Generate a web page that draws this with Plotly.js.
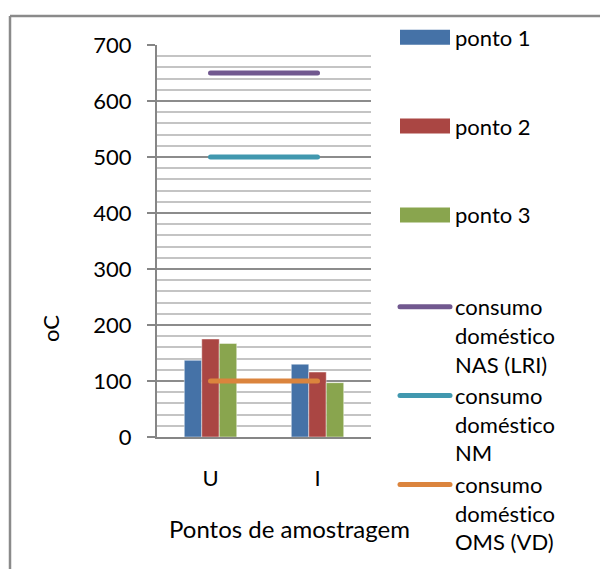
<!DOCTYPE html>
<html>
<head>
<meta charset="utf-8">
<script src="https://cdn.plot.ly/plotly-3.0.1.min.js"></script>
<style>
  html, body { margin: 0; padding: 0; background: #fff; }
  #chart { width: 600px; height: 569px; }
  #chart text { font-variant-ligatures: none; font-feature-settings: "liga" 0, "dlig" 0; }
</style>
</head>
<body>
<div id="chart"></div>
<script>
// Sampling points and measured values
const categories = ['U', 'I'];
const ponto1 = [137, 130];
const ponto2 = [175, 116];
const ponto3 = [167, 97];

// Reference limits for domestic consumption
const nasLRI = [650, 650];
const nmLimit = [500, 500];
const omsVD = [100, 100];

const yTickVals = [0, 100, 200, 300, 400, 500, 600, 700];
const yTickText = ['0', '100', '200', '300', '400', '500', '600', '700'];

const barNames = ['ponto 1', 'ponto 2', 'ponto 3'];
const lineNames = ['consumo<br>doméstico<br>NAS (LRI)', 'consumo<br>doméstico<br>NM', 'consumo<br>doméstico<br>OMS (VD)'];
const barColors = ['#4572A7', '#AA4643', '#89A54E'];
const lineColors = ['#71588F', '#4198AF', '#DB843D'];

// Plot-area geometry in pixels
const W = 600, H = 569;
const L = 157, R = 371, T = 45, B = 437;
const px = x => (x - L) / (R - L);
const py = y => (B - y) / (B - T);

const FONT = 'Lato, "Open Sans", sans-serif';
const FS = 22;
const BLANK = '<br>\u00a0<br>\u00a0';

const barSeries = [ponto1, ponto2, ponto3];
const lineSeries = [nasLRI, nmLimit, omsVD];

const traces = [];
barSeries.forEach((vals, i) => {
  traces.push({
    type: 'bar', x: categories, y: vals, name: barNames[i] + BLANK,
    marker: { color: barColors[i], line: { width: 1, color: 'rgba(255,255,255,0.45)' } },
    legend: 'legend'
  });
});
lineSeries.forEach((vals, i) => {
  traces.push({
    type: 'scatter', mode: 'lines', x: categories, y: vals, name: lineNames[i],
    line: { color: lineColors[i], width: 5 },
    legend: 'legend2'
  });
});

const legendBase = {
  x: px(395), xanchor: 'left', yanchor: 'top',
  valign: 'top', itemwidth: 50, bgcolor: 'rgba(0,0,0,0)',
  font: { family: FONT, size: FS, color: '#000' },
  tracegroupgap: 0
};

const layout = {
  width: W, height: H,
  margin: { l: L, r: W - R, t: T, b: H - B, pad: 0, autoexpand: false },
  paper_bgcolor: '#fff', plot_bgcolor: '#fff',
  font: { family: FONT, size: FS, color: '#000' },
  barmode: 'group', bargap: 0.51, bargroupgap: 0,
  showlegend: true,
  legend: Object.assign({}, legendBase, { y: py(16.5) }),
  legend2: Object.assign({}, legendBase, { y: py(286) }),
  xaxis: {
    type: 'category', showline: true, linecolor: '#868686', linewidth: 2,
    ticks: '', showgrid: false, zeroline: false, automargin: false,
    tickfont: { family: FONT, size: FS, color: '#000' },
    ticklabelstandoff: 21
  },
  yaxis: {
    range: [0, 700], tickvals: yTickVals, ticktext: yTickText,
    showline: true, linecolor: '#868686', linewidth: 2,
    ticks: 'outside', ticklen: 8, tickwidth: 2, tickcolor: '#868686',
    showgrid: true, gridcolor: '#8c8c8c', gridwidth: 2, zeroline: false, automargin: false,
    minor: { dtick: 20, showgrid: true, gridcolor: '#c4c4c4', gridwidth: 2, ticks: '' },
    tickfont: { family: FONT, size: FS, color: '#000' },
    ticklabelstandoff: 11
  },
  annotations: [
    { xref: 'paper', yref: 'paper', x: px(50), y: py(329), text: 'oC', textangle: -90,
      showarrow: false, xanchor: 'center', yanchor: 'middle', font: { family: FONT, size: FS, color: '#000' } },
    { xref: 'paper', yref: 'paper', x: px(289), y: py(528), text: 'Pontos de amostragem',
      showarrow: false, xanchor: 'center', yanchor: 'middle', font: { family: FONT, size: 24, color: '#000' } }
  ],
  shapes: [
    { type: 'line', xref: 'paper', yref: 'paper', x0: px(10), x1: px(10), y0: py(16), y1: py(H + 5),
      line: { color: '#8a8a8a', width: 2.5 } },
    { type: 'line', xref: 'paper', yref: 'paper', x0: px(10), x1: px(W + 5), y0: py(16), y1: py(16),
      line: { color: '#8a8a8a', width: 2.5 } }
  ]
};

Plotly.newPlot('chart', traces, layout, { staticPlot: true, displayModeBar: false }).then(gd => {
  // Wide rectangular swatches for the bar entries in the legend
  gd.querySelectorAll('.legendpoints path').forEach(p => {
    const d = p.getAttribute('d') || '';
    if (d.indexOf('M6,6') === 0) {
      p.setAttribute('d', 'M25,7.5H-25V-7.5H25Z');
      p.style.strokeWidth = '0px';
    }
  });
  // Rounded ends on the limit lines
  gd.querySelectorAll('.scatterlayer .js-line, .legendlines path').forEach(p => {
    p.style.strokeLinecap = 'round';
  });
});
</script>
</body>
</html>
